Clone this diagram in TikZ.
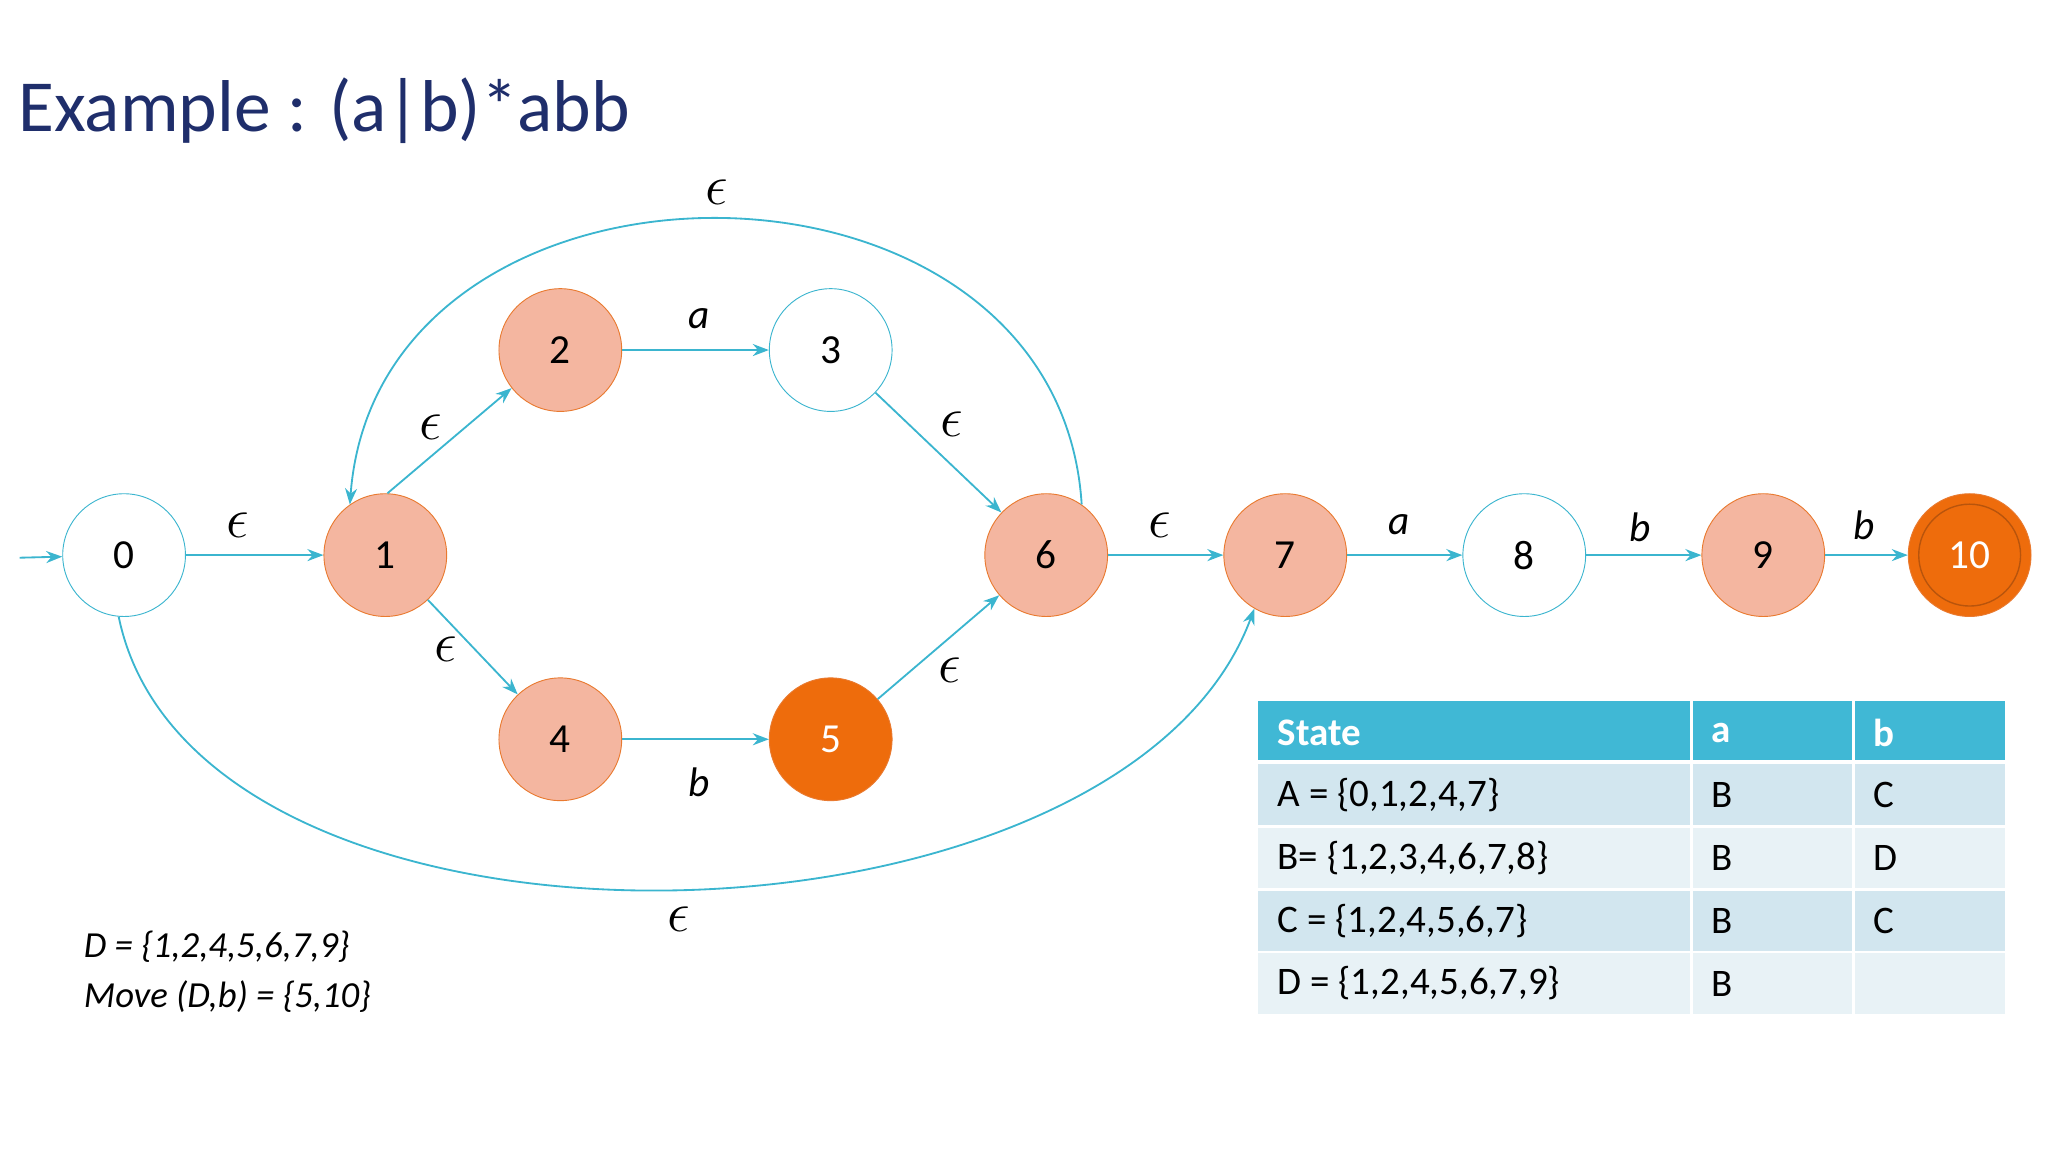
\documentclass[tikz,border=0pt]{standalone}
\usepackage{fontspec}
\setmainfont{Carlito}
\usetikzlibrary{arrows.meta}
\definecolor{teal}{HTML}{3BB5CF}
\definecolor{salm}{HTML}{F4B6A0}
\definecolor{orb}{HTML}{E97A30}
\definecolor{dor}{HTML}{EE6C0C}
\definecolor{inr}{HTML}{B8540C}
\definecolor{navy}{HTML}{1F2E6B}
\definecolor{hdr}{HTML}{40B8D5}
\definecolor{rowa}{HTML}{D2E6EF}
\definecolor{rowb}{HTML}{E8F2F6}
\tikzset{
 st/.style={circle,draw=teal,fill=white,minimum size=1.88cm,inner sep=0pt,font=\fontsize{18}{20}\selectfont},
 hl/.style={st,draw=orb,fill=salm},
 fin/.style={st,draw=orb,fill=dor,text=white},
 ed/.style={draw=teal,line width=0.8pt,-{Stealth[length=7pt]}},
 lb/.style={font=\fontsize{18}{20}\selectfont\itshape},
 ep/.style={font=\fontsize{24}{26}\selectfont},
 tx/.style={font=\fontsize{17}{20}\selectfont,anchor=west}
}
\begin{document}
\begin{tikzpicture}[x=0.02cm,y=-0.02cm]
\useasboundingbox (0,0) rectangle (1568,882);
\node[anchor=west,text=navy,font=\fontsize{32}{36}\selectfont] (t) at (8,85) {Example : (a|b)*abb};
\node[st] (n0) at (95,425) {0};
\node[hl] (n1) at (295,425) {1};
\node[hl] (n2) at (429,268) {2};
\node[st] (n3) at (636,268) {3};
\node[hl] (n4) at (429,566) {4};
\node[fin] (n5) at (636,566) {5};
\node[hl] (n6) at (801,425) {6};
\node[hl] (n7) at (984,425) {7};
\node[st] (n8) at (1167,425) {8};
\node[hl] (n9) at (1350,425) {9};
\node[fin] (n10) at (1508,425) {10};
\draw[draw=inr,line width=0.6pt] (n10) circle (0.78cm);
\coordinate (s) at (15,427);
\draw[ed] (s) -- (n0);
\draw[ed] (n0) -- (n1);
\draw[ed] (n1.88) -- (n2.218);
\draw[ed] (n1) -- (n4);
\draw[ed] (n2) -- (n3);
\draw[ed] (n4) -- (n5);
\draw[ed] (n3) -- (n6);
\draw[ed] (n5) -- (n6);
\draw[ed] (n6) -- (n7);
\draw[ed] (n7) -- (n8);
\draw[ed] (n8) -- (n9);
\draw[ed] (n9) -- (n10);
\draw[ed] (n6.55) .. controls (810,95) and (290,95) .. (n1.125);
\draw[ed] (n0.265) .. controls (150,760) and (858,743) .. (n7.240);
\node[ep] at (182,402) {$\epsilon$};
\node[ep] at (330,327) {$\epsilon$};
\node[ep] at (341,497) {$\epsilon$};
\node[lb] at (535,244) {a};
\node[lb] at (535,599) {b};
\node[ep] at (729,325) {$\epsilon$};
\node[ep] at (727,513) {$\epsilon$};
\node[ep] at (888,402) {$\epsilon$};
\node[lb] at (1071,402) {a};
\node[lb] at (1256,404) {b};
\node[lb] at (1427,402) {b};
\node[ep] at (549,147) {$\epsilon$};
\node[ep] at (520,704) {$\epsilon$};
\node[anchor=west,font=\fontsize{16}{22}\selectfont\itshape,align=left] (d) at (58,744) {D = \{1,2,4,5,6,7,9\}\\Move (D,b) = \{5,10\}};
% table
\fill[hdr] (963,537) rectangle (1535,582);
\fill[rowa] (963,585) rectangle (1535,632);
\fill[rowb] (963,634) rectangle (1535,680);
\fill[rowa] (963,682) rectangle (1535,728);
\fill[rowb] (963,730) rectangle (1535,776);
\draw[white,line width=1.5pt] (1295,537) -- (1295,776) (1419,537) -- (1419,776);
\node[tx,text=white,font=\fontsize{17}{20}\selectfont\bfseries] at (972,561) {State};
\node[tx,text=white,font=\fontsize{17}{20}\selectfont\bfseries] at (1304,561) {a};
\node[tx,text=white,font=\fontsize{17}{20}\selectfont\bfseries] at (1428,561) {b};
\node[tx] at (972,609) {A = \{0,1,2,4,7\}};
\node[tx] at (1304,609) {B};
\node[tx] at (1428,609) {C};
\node[tx] at (972,657) {B= \{1,2,3,4,6,7,8\}};
\node[tx] at (1304,657) {B};
\node[tx] at (1428,657) {D};
\node[tx] at (972,705) {C = \{1,2,4,5,6,7\}};
\node[tx] at (1304,705) {B};
\node[tx] at (1428,705) {C};
\node[tx] at (972,753) {D = \{1,2,4,5,6,7,9\}};
\node[tx] at (1304,753) {B};
\end{tikzpicture}
\end{document}
